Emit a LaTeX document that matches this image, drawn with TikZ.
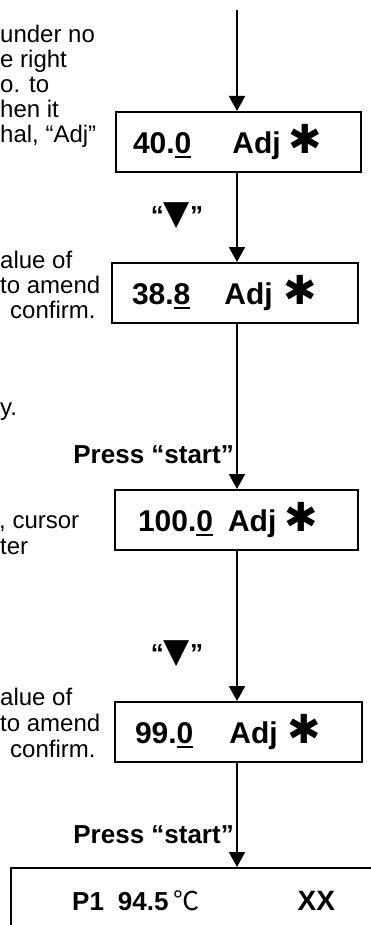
\documentclass[tikz,border=0pt]{standalone}
\usepackage{fontspec}
\setmainfont{Liberation Sans}
\newfontfamily\symfont{DejaVu Sans}
\newfontfamily\cjkfont{Noto Sans CJK SC}
\usetikzlibrary{arrows.meta}
\newcommand\digu[1]{\setbox0\hbox{#1}\rlap{\rule[-4.5pt]{\wd0}{2pt}}\box0}
\newcommand\hvast{{\symfont\fontsize{40}{40}\selectfont ✱}}
\begin{document}
\begin{tikzpicture}[x=1pt,y=-1pt,
  lcd/.style={draw, line width=2pt, minimum height=60pt, inner ysep=0pt,
    align=left, font=\bfseries\fontsize{30}{32}\selectfont},
  flow/.style={line width=2pt, -{Triangle[width=16pt,length=15pt]}},
  note/.style={anchor=base west, inner sep=0pt, font=\fontsize{24}{27}\selectfont},
  lbl/.style={inner sep=0pt, font=\bfseries\fontsize{26}{28}\selectfont}]
\useasboundingbox (0,0) rectangle (371,925);
\clip (0,0) rectangle (371,925);
% left notes
\node[note] (n1) at (0,43) {under no};
\node[note] (n2) at (0,68) {e right};
\node[note] (n3) at (0,93) {o. to};
\node[note] (n4) at (0,118) {hen it};
\node[note] (n5) at (0,143) {hal, “Adj”};
\node[note] (n6) at (0,268) {alue of};
\node[note] (n7) at (0,293) {to amend};
\node[note] (n8) at (10,318) {confirm.};
\node[note] (n9) at (0,415) {y.};
\node[note] (n10) at (-1,528) {, cursor};
\node[note] (n11) at (0,554) {ter};
\node[note] (n12) at (0,705) {alue of};
\node[note] (n13) at (0,731) {to amend};
\node[note] (n14) at (10,757) {confirm.};
% boxes
\coordinate (top) at (237,10);
\node[lcd, inner xsep=17pt, text width=211pt] (b1) at (238.5,142) {40.\digu{0}\hspace{41pt}Adj\hspace{8pt}\hvast};
\node[lcd, inner xsep=20pt, text width=206pt] (b2) at (235,293) {38.\digu{8}\hspace{34pt}Adj\hspace{11pt}\hvast};
\node[lcd, inner xsep=23pt, text width=197pt] (b3) at (236.5,520) {100.\digu{0}\hspace{15pt}Adj\hspace{8pt}\hvast};
\node[lcd, inner xsep=20pt, text width=207pt] (b4) at (238.5,732) {99.\digu{0}\hspace{36pt}Adj\hspace{10pt}\hvast};
\node[draw, line width=2pt, anchor=north west, minimum width=420pt, minimum height=120pt] (b5) at (10,867) {};
\node[anchor=base west, inner sep=0pt, font=\bfseries\fontsize{26}{28}\selectfont] (t5) at (72,910)
  {P1\hspace{14pt}94.5\hspace{5pt}{\cjkfont\mdseries ℃}\hspace{98pt}{\fontsize{28}{30}\selectfont XX}};
% labels
\node[lbl] (k1) at (177,216) {“{\symfont\mdseries\fontsize{34}{34}\selectfont ▼}”};
\node[lbl, anchor=east] (p1) at (234,455) {Press “start”};
\node[lbl] (k2) at (177,654) {“{\symfont\mdseries\fontsize{34}{34}\selectfont ▼}”};
\node[lbl, anchor=east] (p2) at (234,835) {Press “start”};
% connectors
\draw[flow] (top) -- (b1.north -| top);
\draw[flow] (b1.south -| top) -- (b2.north -| top);
\draw[flow] (b2.south -| top) -- (b3.north -| top);
\draw[flow] (b3.south -| top) -- (b4.north -| top);
\draw[flow] (b4.south -| top) -- (b5.north -| top);
\end{tikzpicture}
\end{document}
